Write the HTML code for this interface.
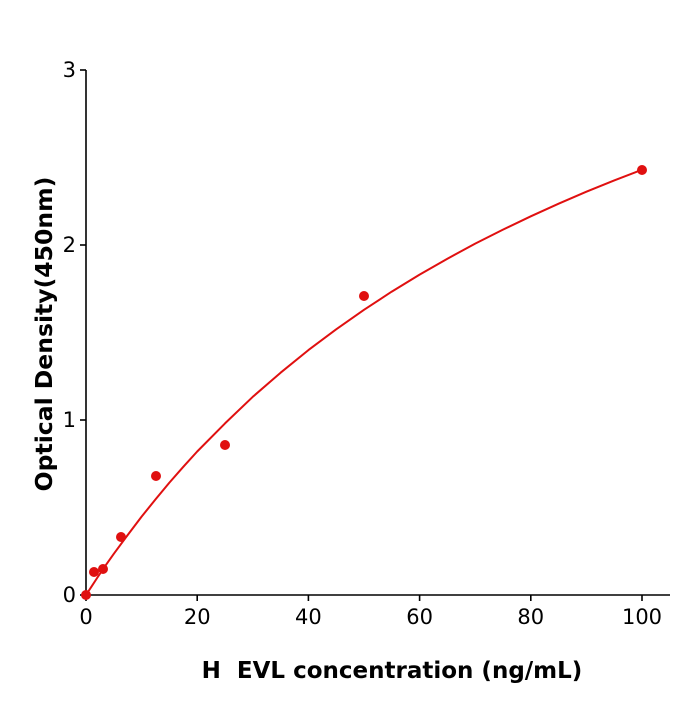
<!DOCTYPE html>
<html><head><meta charset="utf-8"><style>body{margin:0;background:#fff}</style></head><body>
<svg width="700" height="700" xmlns="http://www.w3.org/2000/svg" font-family="DejaVu Sans, Liberation Sans, sans-serif">
<rect width="700" height="700" fill="#fff"/>
<g stroke="#000" stroke-width="1.6" fill="none">
<line x1="86" y1="70" x2="86" y2="595.8"/>
<line x1="85.2" y1="595" x2="670" y2="595"/>
<line x1="86" y1="595" x2="86" y2="601"/><line x1="197.2" y1="595" x2="197.2" y2="601"/><line x1="308.4" y1="595" x2="308.4" y2="601"/><line x1="419.6" y1="595" x2="419.6" y2="601"/><line x1="530.8" y1="595" x2="530.8" y2="601"/><line x1="642" y1="595" x2="642" y2="601"/>
<line x1="80" y1="595" x2="86" y2="595"/><line x1="80" y1="420" x2="86" y2="420"/><line x1="80" y1="245" x2="86" y2="245"/><line x1="80" y1="70" x2="86" y2="70"/>
</g>
<g font-size="21" fill="#000" text-anchor="middle">
<text x="86" y="624">0</text><text x="197.2" y="624">20</text><text x="308.4" y="624">40</text><text x="419.6" y="624">60</text><text x="530.8" y="624">80</text><text x="642" y="624">100</text>
</g>
<g font-size="21" fill="#000" text-anchor="end">
<text x="76" y="602">0</text><text x="76" y="427">1</text><text x="76" y="252">2</text><text x="76" y="77">3</text>
</g>
<text x="392" y="678" font-size="23" font-weight="bold" text-anchor="middle" xml:space="preserve">H&#160; EVL concentration (ng/mL)</text>
<text transform="translate(52,334) rotate(-90)" font-size="23.5" font-weight="bold" text-anchor="middle">Optical Density(450nm)</text>
<polyline fill="none" stroke="#e01010" stroke-width="2" stroke-linejoin="round" points="86,595 91.6,586.4 97.1,578 105.5,565.6 113.8,553.8 127.7,535 141.6,516.6 155.5,499.4 169.4,482.6 183.3,466.8 197.2,451.5 225,423.4 252.8,396.8 280.6,372.7 308.4,350.1 336.2,329.3 364,309.8 391.8,291.6 419.6,274.6 447.4,258.7 475.2,243.6 503,229.6 530.8,216.3 558.6,203.7 586.4,191.7 614.2,180.4 642,169.7"/>
<g fill="#e01010">
<circle cx="86" cy="595" r="5"/><circle cx="94" cy="572" r="5"/><circle cx="103" cy="569" r="5"/><circle cx="121" cy="537" r="5"/><circle cx="156" cy="476" r="5"/><circle cx="225" cy="445" r="5"/><circle cx="364" cy="296" r="5"/><circle cx="642" cy="170" r="5"/>
</g>
</svg>
</body></html>
